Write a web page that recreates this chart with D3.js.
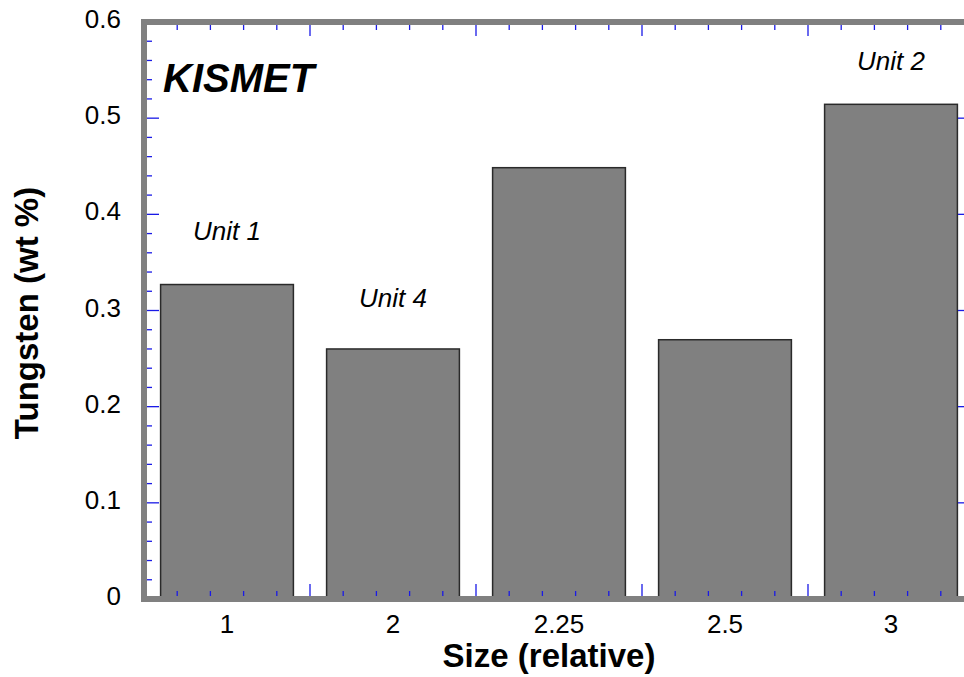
<!DOCTYPE html>
<html>
<head>
<meta charset="utf-8">
<script src="https://d3js.org/d3.v7.min.js"></script>
<style>
  body { margin: 0; background: #fff; }
  text { font-family: Arial, 'Liberation Sans', sans-serif; }
</style>
</head>
<body>
<div id="chart"></div>
<script>
let sizes = ['1', '2', '2.25', '2.5', '3']
let tungsten = [0.327, 0.260, 0.4485, 0.2696, 0.5144]
let yTicks = [0, 0.1, 0.2, 0.3, 0.4, 0.5, 0.6]
let unitLabels = ['Unit 1', 'Unit 4', 'Unit 2']
let unitIndex = [0, 1, 4]
let unitLevel = [0.373, 0.304, 0.55]

;(function() {
  let width = 964,
  height = 677

  let left = 144, right = 974, top = 22, bottom = 599

  let svg = d3.select('#chart')
    .append('svg')
    .attr('width', width)
    .attr('height', height)

  let x = d3.scaleBand()
    .domain(sizes)
    .range([left, right])
    .paddingInner(0.2)
    .paddingOuter(0.1)

  // linear version of x for the tick marks between bands
  let xl = d3.scaleLinear().domain([0, sizes.length]).range([left, right])

  let y = d3.scaleLinear().domain([0, 0.6]).range([bottom, top])

  let blue = '#1a1ae6'

  // bars
  svg.selectAll('.bar')
    .data(tungsten)
    .enter()
    .append('rect')
    .attr('class', 'bar')
    .attr('x', (d, i) => x(sizes[i]))
    .attr('y', (d) => y(d))
    .attr('width', x.bandwidth())
    .attr('height', (d) => y(0) - y(d))
    .attr('fill', '#808080')
    .attr('stroke', '#2a2a2a')
    .attr('stroke-width', 1.5)

  // minor + major ticks, x
  let xt = d3.range(0, sizes.length * 5 + 1).map((k) => k / 5)
  let isMajorX = (t) => Math.abs(t - Math.round(t)) < 1e-6

  svg.selectAll('.xtick-b')
    .data(xt)
    .enter()
    .append('line')
    .attr('x1', (d) => xl(d))
    .attr('x2', (d) => xl(d))
    .attr('y1', bottom)
    .attr('y2', (d) => bottom - (isMajorX(d) ? 15 : 8))
    .attr('stroke', blue)
    .attr('stroke-width', 1.3)

  svg.selectAll('.xtick-t')
    .data(xt)
    .enter()
    .append('line')
    .attr('x1', (d) => xl(d))
    .attr('x2', (d) => xl(d))
    .attr('y1', top)
    .attr('y2', (d) => top + (isMajorX(d) ? 14 : 8))
    .attr('stroke', blue)
    .attr('stroke-width', 1.3)

  // minor + major ticks, y
  let yt = d3.range(0, 31).map((k) => k / 50)
  let isMajorY = (t) => Math.abs(t * 10 - Math.round(t * 10)) < 1e-6

  svg.selectAll('.ytick-l')
    .data(yt)
    .enter()
    .append('line')
    .attr('x1', left)
    .attr('x2', (d) => left + (isMajorY(d) ? 15 : 8))
    .attr('y1', (d) => y(d))
    .attr('y2', (d) => y(d))
    .attr('stroke', blue)
    .attr('stroke-width', 1.3)

  svg.selectAll('.ytick-r')
    .data(yt)
    .enter()
    .append('line')
    .attr('x1', right)
    .attr('x2', (d) => right - (isMajorY(d) ? 16 : 8))
    .attr('y1', (d) => y(d))
    .attr('y2', (d) => y(d))
    .attr('stroke', blue)
    .attr('stroke-width', 1.3)

  // gray frame: left, top, bottom
  let frame = [
    [left, top, left, bottom + 3],
    [left - 3, top, width, top],
    [left - 3, bottom, width, bottom]
  ]
  svg.selectAll('.frame')
    .data(frame)
    .enter()
    .append('line')
    .attr('x1', (d) => d[0])
    .attr('y1', (d) => d[1])
    .attr('x2', (d) => d[2])
    .attr('y2', (d) => d[3])
    .attr('stroke', '#808080')
    .attr('stroke-width', 6)

  // tick labels
  svg.selectAll('.ylab')
    .data(yTicks)
    .enter()
    .append('text')
    .attr('x', left - 23)
    .attr('y', (d) => y(d) - 3)
    .attr('dy', '0.35em')
    .attr('text-anchor', 'end')
    .attr('font-size', 26)
    .text((d) => d3.format('')(d))

  svg.selectAll('.xlab')
    .data(sizes)
    .enter()
    .append('text')
    .attr('x', (d) => x(d) + x.bandwidth() / 2)
    .attr('y', 633)
    .attr('text-anchor', 'middle')
    .attr('font-size', 26)
    .text((d) => d)

  // axis titles
  svg.append('text')
    .attr('x', 549)
    .attr('y', 667)
    .attr('text-anchor', 'middle')
    .attr('font-size', 33)
    .attr('font-weight', 'bold')
    .text('Size (relative)')

  svg.append('text')
    .attr('transform', 'translate(38,313) rotate(-90)')
    .attr('text-anchor', 'middle')
    .attr('font-size', 33)
    .attr('font-weight', 'bold')
    .text('Tungsten (wt %)')

  // annotations
  svg.append('text')
    .attr('x', xl(0.115))
    .attr('y', y(0.527))
    .attr('font-size', 40)
    .attr('font-weight', 'bold')
    .attr('font-style', 'italic')
    .text('KISMET')

  svg.selectAll('.unit')
    .data(unitLabels)
    .enter()
    .append('text')
    .attr('x', (d, i) => x(sizes[unitIndex[i]]) + x.bandwidth() / 2)
    .attr('y', (d, i) => y(unitLevel[i]))
    .attr('text-anchor', 'middle')
    .attr('font-size', 26)
    .attr('font-style', 'italic')
    .text((d) => d)
})()
</script>
</body>
</html>
